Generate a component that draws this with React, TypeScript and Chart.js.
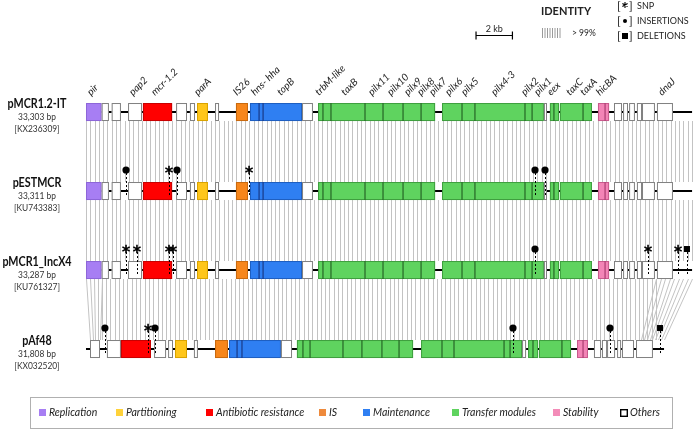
import React, { useEffect, useRef } from "react";
import { Chart, registerables } from "chart.js";
Chart.register(...registerables);

// ---------- DATA ----------
const plasmidNames = ["pMCR1.2-IT", "pESTMCR", "pMCR1_IncX4", "pAf48"];
const plasmidSizes = ["33,303 bp", "33,311 bp", "33,287 bp", "31,808 bp"];
const accessions = ["[KX236309]", "[KU743383]", "[KU761327]", "[KX032520]"];
const backboneLengthsKb = [33.3, 33.3, 33.3, 31.76];

// shared layout of pMCR1.2-IT / pESTMCR / pMCR1_IncX4 (kb)
const mcrGeneStarts = [0.0, 0.86, 1.41, 2.31, 3.13, 4.95, 5.71, 6.1, 7.09, 8.24, 9.01, 11.87, 12.75, 19.56, 25.16, 25.49, 26.04, 28.13, 29.01, 29.51, 29.84, 30.27, 30.55, 31.37];
const mcrGeneEnds = [0.86, 1.26, 1.92, 3.08, 4.73, 5.55, 5.99, 6.7, 7.31, 8.9, 11.87, 12.47, 19.18, 25.16, 25.33, 25.99, 27.8, 28.74, 29.45, 29.78, 30.16, 30.55, 31.26, 32.25];
const mcrGeneTypes = ["rep", "oth", "oth", "oth", "abr", "oth", "oth", "par", "oth", "is", "mai", "oth", "tra", "tra", "oth", "tra", "tra", "sta", "oth", "oth", "oth", "oth", "oth", "oth"];
const mcrDividers = [9.51, 9.73, 13.02, 13.46, 15.33, 16.32, 17.42, 18.41, 20.66, 21.37, 24.12, 24.51, 25.71, 27.31, 28.52];

// pAf48 (kb)
const afGeneStarts = [0.22, 1.15, 1.92, 3.74, 4.51, 4.89, 5.93, 7.09, 7.86, 10.71, 11.59, 18.41, 23.96, 24.29, 24.89, 26.98, 27.91, 28.35, 28.63, 29.18, 29.45, 30.22];
const afGeneEnds = [0.77, 1.92, 3.57, 4.4, 4.78, 5.55, 6.15, 7.8, 10.71, 11.32, 17.97, 23.96, 24.18, 24.84, 26.65, 27.58, 28.3, 28.63, 29.07, 29.4, 30.11, 31.15];
const afGeneTypes = ["oth", "oth", "abr", "oth", "oth", "par", "oth", "is", "mai", "oth", "tra", "tra", "oth", "tra", "tra", "sta", "oth", "oth", "oth", "oth", "oth", "oth"];
const afDividers = [8.3, 8.57, 11.92, 12.31, 14.12, 15.16, 16.26, 17.2, 19.56, 20.22, 22.97, 23.3, 24.56, 26.15, 27.31];

// gene name labels on the top track
const geneLabels = ["pir", "pap2", "mcr-1.2", "parA", "IS26", "hns- hha", "topB", "trbM-like", "taxB", "pilx11", "pilx10", "pilx9", "pilx8", "pilx7", "pilx6", "pilx5", "pilx4-3", "pilx2", "pilx1", "eex", "taxC", "taxA", "hicBA", "dnaJ"];
const geneLabelPos = [0.27, 2.58, 3.79, 6.15, 8.3, 9.29, 10.71, 12.8, 14.23, 15.71, 16.76, 17.69, 18.41, 19.07, 19.95, 20.82, 22.47, 24.12, 24.84, 25.55, 26.59, 27.36, 28.24, 31.65];

// variants: track index, position (kb), kind
const variantTrack = [1, 1, 1, 1, 1, 1, 2, 2, 2, 2, 2, 2, 2, 2, 3, 3, 3, 3, 3, 3];
const variantPos = [2.2, 4.56, 5.0, 8.96, 24.67, 25.22, 2.2, 2.8, 4.56, 4.78, 24.67, 30.88, 32.53, 33.02, 1.04, 3.41, 3.79, 23.46, 28.79, 31.54];
const variantKind = ["ins", "snp", "ins", "snp", "ins", "ins", "snp", "snp", "snp", "snp", "ins", "snp", "snp", "del", "ins", "snp", "ins", "ins", "ins", "del"];

// identity blocks: upper track, top start/end, bottom start/end (kb)
const identityUpper = [0, 1, 2, 2, 2];
const identityTopStart = [0.0, 0.0, 0.0, 0.86, 31.32];
const identityTopEnd = [33.3, 33.3, 0.86, 31.32, 33.3];
const identityBottomStart = [0.0, 0.0, 0.22, 0.86, 30.49];
const identityBottomEnd = [33.3, 33.3, 0.77, 31.32, 31.76];

const categoryKeys = ["rep", "par", "abr", "is", "mai", "tra", "sta", "oth"];
const categoryLabels = ["Replication", "Partitioning", "Antibiotic resistance", "IS", "Maintenance", "Transfer modules", "Stability", "Others"];
const scaleBarKb = 2;
const scaleBarStartKb = 21.43;

// ---------- STYLE ----------
const FILL: Record<string, string> = {
  rep: "#a77ef3", par: "#ffc61a", abr: "#ff0000", is: "#f7861b",
  mai: "#2f7ff2", tra: "#5fd35f", sta: "#f384b6", oth: "#ffffff",
};
const STROKE: Record<string, string> = {
  rep: "#8d66d8", par: "#d9a300", abr: "#c80000", is: "#c86a10",
  mai: "#1f5fc0", tra: "#3f9f3f", sta: "#c85a8c", oth: "#808080",
};
const DIV: Record<string, string> = {
  mai: "#1a3f90", tra: "#2a6e2a", sta: "#b04276", oth: "#808080",
};
const LEGEND_SQ = { rep: "#a77ef3", par: "#ffd23a", abr: "#ff0000", is: "#ee8a3c", mai: "#2f7ff2", tra: "#5fd35f", sta: "#f38cb8", oth: "#ffffff" } as Record<string, string>;
const FONT = "Lato, 'Open Sans', sans-serif";

function squeezedText(ctx: CanvasRenderingContext2D, text: string, x: number, y: number, sx: number) {
  ctx.save();
  ctx.translate(x, y);
  ctx.scale(sx, 1);
  ctx.fillText(text, 0, 0);
  ctx.restore();
}

const genomePlugin = {
  id: "genomeMap",
  afterDraw(chart: any) {
    const ctx: CanvasRenderingContext2D = chart.ctx;
    const xs = chart.scales.x;
    const ys = chart.scales.y;
    const X = (v: number) => xs.getPixelForValue(v);
    const Y = (v: number) => ys.getPixelForValue(v);
    const half = 9;
    ctx.save();

    // identity hatching
    ctx.strokeStyle = "#c3c3c3";
    ctx.lineWidth = 1;
    for (let b = 0; b < identityUpper.length; b++) {
      const t = identityUpper[b];
      const yTop = Y(t) + half;
      const yBot = Y(t + 1) - half;
      const ts = X(identityTopStart[b]), te = X(identityTopEnd[b]);
      const bs = X(identityBottomStart[b]), be = X(identityBottomEnd[b]);
      const n = Math.max(1, Math.round((te - ts) / 4.3));
      ctx.beginPath();
      for (let i = 0; i <= n; i++) {
        const f = i / n;
        const xt = Math.round(ts + (te - ts) * f) + 0.5;
        const xb = Math.round(bs + (be - bs) * f) + 0.5;
        ctx.moveTo(xt, yTop);
        ctx.lineTo(xb, yBot);
      }
      ctx.stroke();
    }

    // tracks
    for (let t = 0; t < 4; t++) {
      const yc = Y(t);
      const starts = t < 3 ? mcrGeneStarts : afGeneStarts;
      const ends = t < 3 ? mcrGeneEnds : afGeneEnds;
      const types = t < 3 ? mcrGeneTypes : afGeneTypes;
      const divs = t < 3 ? mcrDividers : afDividers;
      ctx.strokeStyle = "#000";
      ctx.lineWidth = 2.2;
      ctx.beginPath();
      ctx.moveTo(X(0), yc);
      ctx.lineTo(X(backboneLengthsKb[t]), yc);
      ctx.stroke();
      for (let g = 0; g < starts.length; g++) {
        const x0 = X(starts[g]);
        const x1 = X(ends[g]);
        ctx.fillStyle = FILL[types[g]];
        ctx.fillRect(x0, yc - half, x1 - x0, half * 2);
        ctx.strokeStyle = STROKE[types[g]];
        ctx.lineWidth = 1;
        ctx.strokeRect(x0 + 0.5, yc - half + 0.5, x1 - x0 - 1, half * 2 - 1);
      }
      for (const d of divs) {
        let typ = "oth";
        for (let g = 0; g < starts.length; g++) if (d > starts[g] && d < ends[g]) typ = types[g];
        ctx.strokeStyle = DIV[typ] || "#333";
        ctx.lineWidth = 1.3;
        ctx.beginPath();
        ctx.moveTo(X(d), yc - half);
        ctx.lineTo(X(d), yc + half);
        ctx.stroke();
      }
    }

    // variants
    for (let i = 0; i < variantPos.length; i++) {
      const xc = X(variantPos[i]);
      const yc = Y(variantTrack[i]);
      const ym = yc - 21;
      ctx.strokeStyle = "#000";
      ctx.lineWidth = 1;
      ctx.setLineDash([2, 2]);
      ctx.beginPath();
      ctx.moveTo(Math.round(xc) + 0.5, ym + 3);
      ctx.lineTo(Math.round(xc) + 0.5, yc + 4);
      ctx.stroke();
      ctx.setLineDash([]);
      ctx.fillStyle = "#000";
      if (variantKind[i] === "ins") {
        ctx.beginPath();
        ctx.arc(xc, ym, 3.6, 0, Math.PI * 2);
        ctx.fill();
      } else if (variantKind[i] === "del") {
        ctx.fillRect(xc - 3, ym - 3, 6, 6);
      } else {
        ctx.lineWidth = 1.6;
        ctx.beginPath();
        for (let k = 0; k < 3; k++) {
          const a = Math.PI / 2 + (k * Math.PI) / 3;
          ctx.moveTo(xc + Math.cos(a) * 4.2, ym + Math.sin(a) * 4.2);
          ctx.lineTo(xc - Math.cos(a) * 4.2, ym - Math.sin(a) * 4.2);
        }
        ctx.stroke();
      }
    }

    // gene labels
    ctx.fillStyle = "#222";
    ctx.font = `italic 10px ${FONT}`;
    ctx.textAlign = "left";
    ctx.textBaseline = "alphabetic";
    for (let i = 0; i < geneLabels.length; i++) {
      ctx.save();
      ctx.translate(X(geneLabelPos[i]), Y(0) - half - 7);
      ctx.rotate(-Math.PI / 4);
      ctx.fillText(geneLabels[i], 0, 0);
      ctx.restore();
    }

    // plasmid names
    ctx.textAlign = "center";
    ctx.textBaseline = "middle";
    for (let t = 0; t < 4; t++) {
      const yc = Y(t);
      ctx.fillStyle = "#111";
      ctx.font = `bold 12.5px ${FONT}`;
      squeezedText(ctx, plasmidNames[t], 37, yc - 8, 0.86);
      ctx.fillStyle = "#333";
      ctx.font = `10px ${FONT}`;
      squeezedText(ctx, plasmidSizes[t], 37, yc + 5, 0.84);
      squeezedText(ctx, accessions[t], 37, yc + 17, 0.84);
    }

    // scale bar
    const sb0 = X(scaleBarStartKb), sb1 = X(scaleBarStartKb + scaleBarKb);
    ctx.strokeStyle = "#000";
    ctx.lineWidth = 1.2;
    ctx.beginPath();
    ctx.moveTo(sb0, 35.5); ctx.lineTo(sb1, 35.5);
    ctx.moveTo(sb0, 31.5); ctx.lineTo(sb0, 39.5);
    ctx.moveTo(sb1, 31.5); ctx.lineTo(sb1, 39.5);
    ctx.stroke();
    ctx.fillStyle = "#222";
    ctx.font = `9px ${FONT}`;
    ctx.textAlign = "center";
    ctx.fillText(`${scaleBarKb} kb`, (sb0 + sb1) / 2, 29);

    // identity key
    ctx.font = `bold 11px ${FONT}`;
    ctx.fillStyle = "#222";
    ctx.fillText("IDENTITY", 566, 11);
    ctx.strokeStyle = "#9a9a9a";
    ctx.lineWidth = 1;
    ctx.beginPath();
    for (let k = 0; k < 8; k++) {
      ctx.moveTo(542.5 + k * 2.5, 28);
      ctx.lineTo(542.5 + k * 2.5, 38);
    }
    ctx.stroke();
    ctx.textAlign = "left";
    ctx.font = `8.5px ${FONT}`;
    ctx.fillText("> 99%", 572, 33);

    // variant key
    const keyLabels = ["SNP", "INSERTIONS", "DELETIONS"];
    const keyY = [6, 21, 36];
    for (let k = 0; k < 3; k++) {
      ctx.fillStyle = "#222";
      ctx.font = `12px ${FONT}`;
      ctx.textAlign = "left";
      ctx.fillText("[", 617, keyY[k]);
      ctx.fillText("]", 629, keyY[k]);
      const cx = 625, cy = keyY[k];
      ctx.fillStyle = "#000";
      ctx.strokeStyle = "#000";
      if (k === 0) {
        ctx.lineWidth = 1.1;
        ctx.beginPath();
        for (let s = 0; s < 3; s++) {
          const a = Math.PI / 2 + (s * Math.PI) / 3;
          ctx.moveTo(cx + Math.cos(a) * 3, cy - 1 + Math.sin(a) * 3);
          ctx.lineTo(cx - Math.cos(a) * 3, cy - 1 - Math.sin(a) * 3);
        }
        ctx.stroke();
      } else if (k === 1) {
        ctx.beginPath(); ctx.arc(cx, cy, 2, 0, Math.PI * 2); ctx.fill();
      } else {
        ctx.fillRect(cx - 3, cy - 3, 6, 6);
      }
      ctx.fillStyle = "#222";
      ctx.font = `9px ${FONT}`;
      ctx.fillText(keyLabels[k], 637, keyY[k] + 0.5);
    }

    // category legend
    ctx.strokeStyle = "#b0b0b0";
    ctx.lineWidth = 1;
    ctx.strokeRect(30.5, 397.5, 642, 31);
    const legX = [49, 126, 216, 329, 373, 462, 563, 630];
    ctx.font = `italic 10.5px ${FONT}`;
    ctx.textBaseline = "middle";
    for (let i = 0; i < categoryKeys.length; i++) {
      const k = categoryKeys[i];
      const sx = legX[i] - 10;
      if (k === "oth") {
        ctx.strokeStyle = "#000";
        ctx.lineWidth = 1.4;
        ctx.strokeRect(sx + 0.7, 409.7, 6.6, 6.6);
      } else {
        ctx.fillStyle = LEGEND_SQ[k];
        ctx.fillRect(sx, 409, 7, 7);
      }
      ctx.fillStyle = "#222";
      ctx.fillText(categoryLabels[i], legX[i], 413);
    }
    ctx.restore();
  },
};

export default function App() {
  const ref = useRef<HTMLCanvasElement | null>(null);
  useEffect(() => {
    if (!ref.current) return;
    const chart = new Chart(ref.current, {
      type: "scatter",
      data: { datasets: [{ data: [] }] },
      options: {
        animation: false,
        responsive: false,
        devicePixelRatio: 1,
        layout: { padding: 0 },
        plugins: { legend: { display: false }, tooltip: { enabled: false } },
        scales: {
          x: { type: "linear", min: -4.725, max: 33.516, display: false },
          y: { type: "linear", min: -1.418, max: 4.063, reverse: true, display: false },
        },
      },
      plugins: [genomePlugin],
    });
    return () => chart.destroy();
  }, []);
  return (
    <div style={{ position: "absolute", left: 0, top: 0, width: 696, height: 433, background: "#fff" }}>
      <canvas ref={ref} width={696} height={433} style={{ display: "block" }} />
    </div>
  );
}
